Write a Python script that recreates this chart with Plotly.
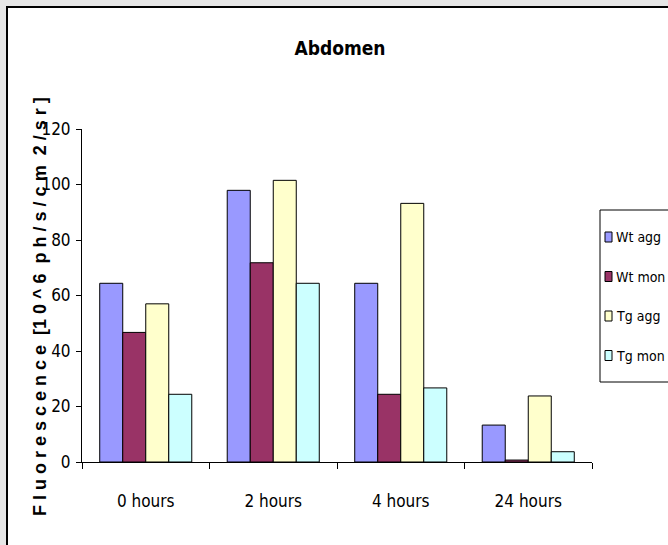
import plotly.graph_objects as go

# Fluorescence readings per time point
time_points = ["0 hours", "2 hours", "4 hours", "24 hours"]
series_names = ["Wt agg", "Wt mon", "Tg agg", "Tg mon"]
wt_agg = [64.4, 97.9, 64.4, 13.3]
wt_mon = [46.7, 71.8, 24.4, 0.7]
tg_agg = [57.0, 101.5, 93.2, 23.8]
tg_mon = [24.4, 64.4, 26.7, 3.7]
series_values = [wt_agg, wt_mon, tg_agg, tg_mon]
series_colors = ["#9999FF", "#993366", "#FFFFCC", "#CCFFFF"]
y_ticks = [0, 20, 40, 60, 80, 100, 120]

W, H = 668, 545
L, R, T, B = 82, 592, 129, 462   # plot area in pixels

def fx(px):
    return (px - L) / (R - L)

def fy(py):
    return (B - py) / (B - T)

FONT = "DejaVu Sans Condensed, Liberation Sans Narrow, Arial Narrow, Liberation Sans, sans-serif"

fig = go.Figure()
for name, vals, col in zip(series_names, series_values, series_colors):
    fig.add_trace(go.Bar(
        name=name, x=time_points, y=vals,
        marker=dict(color=col, line=dict(color="black", width=1)),
        showlegend=False,
    ))

shapes = [
    # chart frame
    dict(type="rect", xref="paper", yref="paper",
         x0=fx(7), x1=fx(700), y0=fy(7), y1=fy(600),
         fillcolor="white", line=dict(color="black", width=2), layer="below"),
    # legend box
    dict(type="rect", xref="paper", yref="paper",
         x0=fx(600), x1=fx(720), y0=fy(210), y1=fy(382),
         fillcolor="white", line=dict(color="black", width=1), layer="above"),
]
annotations = []
item_y = [237, 276.5, 316, 355.5]
for name, col, py in zip(series_names, series_colors, item_y):
    shapes.append(dict(type="rect", xref="paper", yref="paper",
                       x0=fx(605), x1=fx(612), y0=fy(py - 5), y1=fy(py + 5),
                       fillcolor=col, line=dict(color="black", width=1), layer="above"))
    annotations.append(dict(xref="paper", yref="paper", x=fx(614), y=fy(py),
                            xanchor="left", yanchor="middle", showarrow=False,
                            text=name, font=dict(family=FONT, size=14, color="black")))

annotations.append(dict(
    xref="paper", yref="paper", x=fx(40), y=fy(307),
    xanchor="center", yanchor="middle", showarrow=False, textangle=-90,
    text="F l u o r e s c e n c e  [1 0 ^ 6  p h / s / c m  2 / s r ]",
    font=dict(family="Liberation Sans, Arial, sans-serif", size=18, color="black", weight="bold"),
))

fig.update_layout(
    width=W, height=H,
    margin=dict(l=L, r=W - R, t=T, b=H - B, autoexpand=False),
    paper_bgcolor="#E6E6E6",
    plot_bgcolor="rgba(0,0,0,0)",
    barmode="group", bargap=0.278, bargroupgap=0,
    title=dict(text="<b>Abdomen</b>", x=340 / W, xanchor="center",
               y=1 - 48 / H, yanchor="middle",
               font=dict(family=FONT, size=19, color="black")),
    font=dict(family=FONT, size=17, color="black"),
    shapes=shapes, annotations=annotations,
    xaxis=dict(showline=True, linecolor="black", linewidth=1,
               ticks="outside", tickson="boundaries", ticklen=6, tickcolor="black",
               showgrid=False, ticklabelstandoff=24,
               tickfont=dict(family=FONT, size=17, color="black")),
    yaxis=dict(range=[0, 120], tickvals=y_ticks, showline=True, linecolor="black",
               linewidth=1, ticks="outside", ticklen=5, tickcolor="black",
               showgrid=False, zeroline=False, ticklabelstandoff=2,
               tickfont=dict(family=FONT, size=17, color="black")),
)

fig.write_html("out.html")
